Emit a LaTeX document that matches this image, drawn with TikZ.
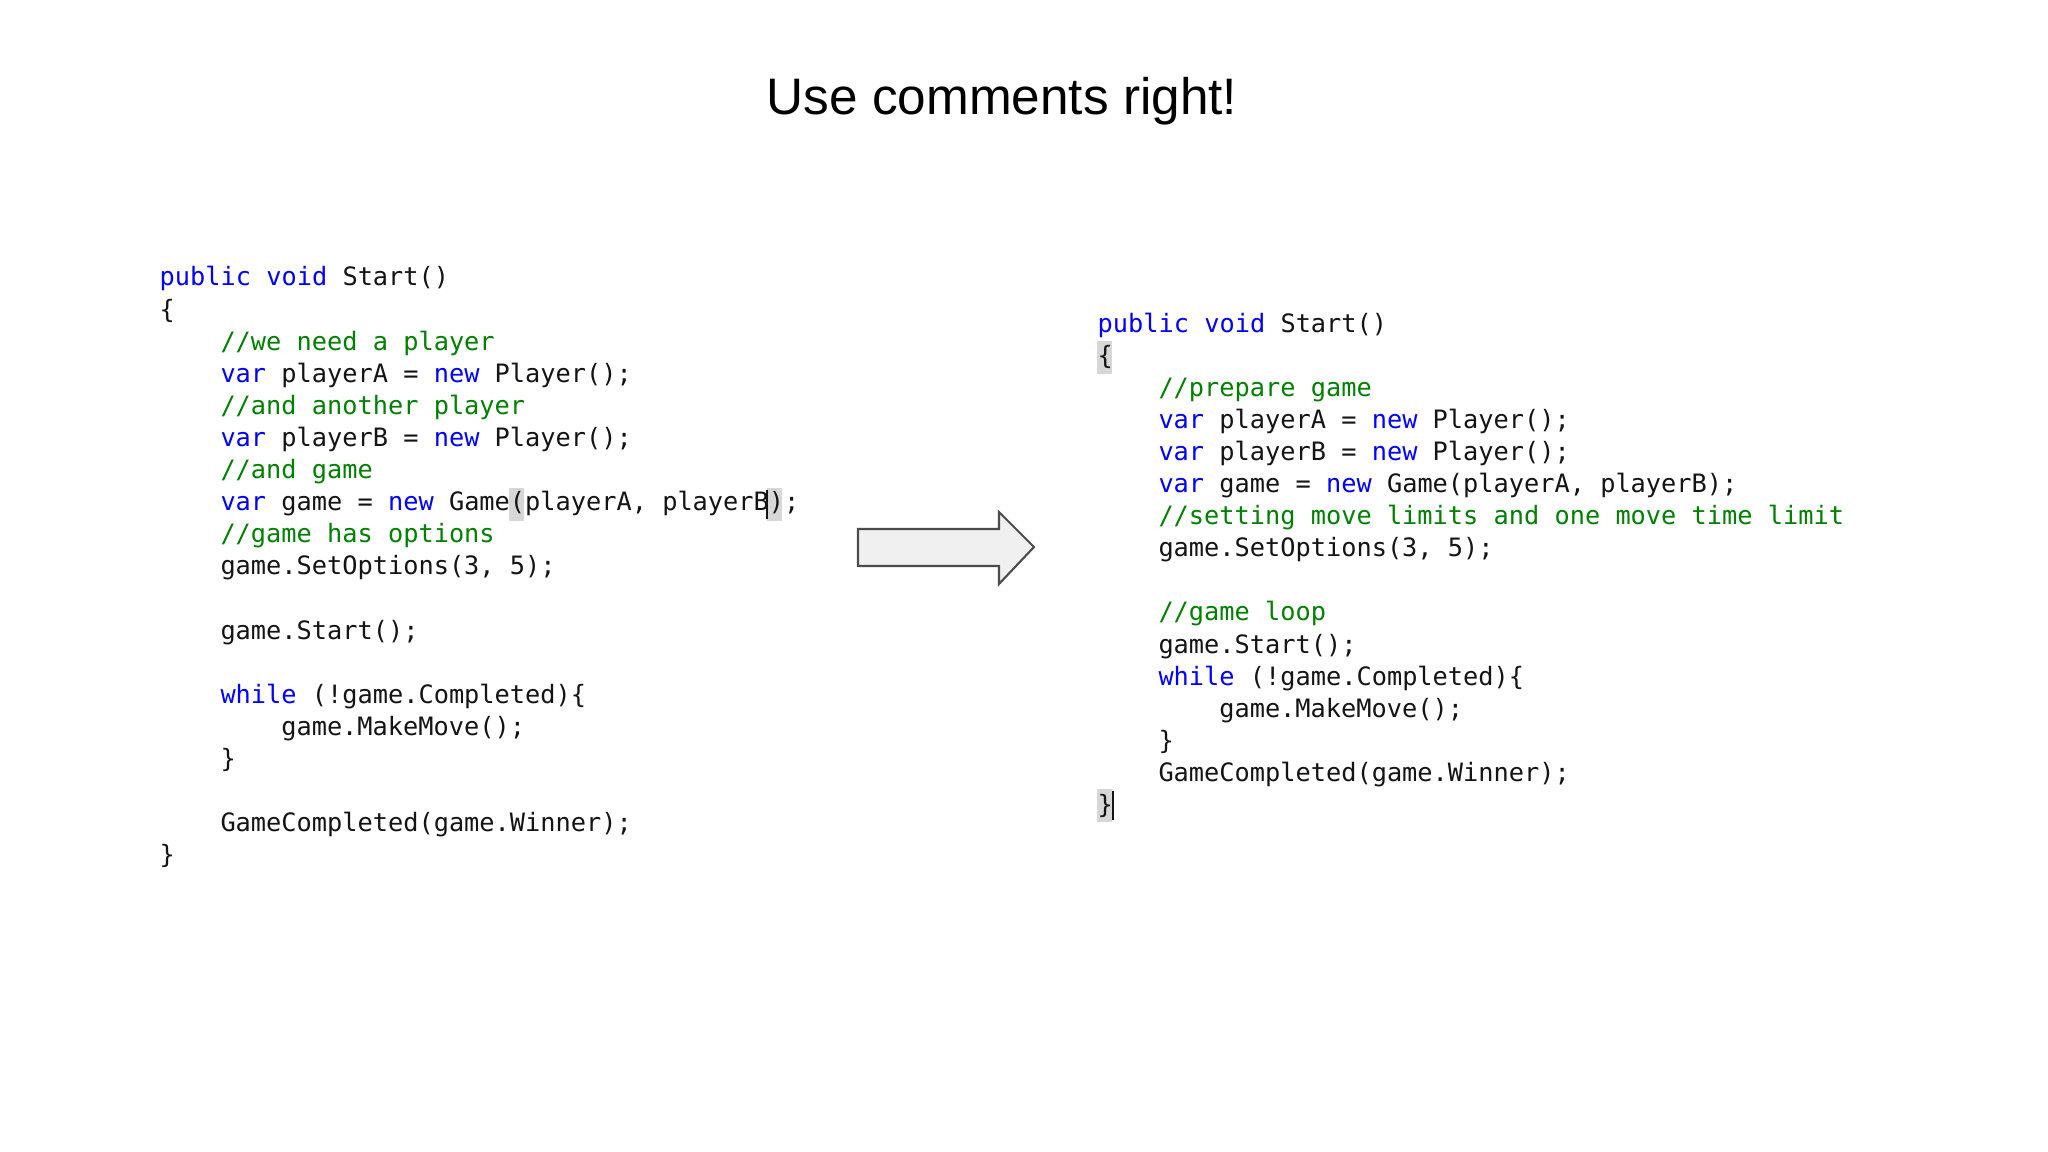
\documentclass[tikz,border=0pt]{standalone}
\usepackage{fontspec}
\setmainfont{Liberation Sans}
\setmonofont{DejaVu Sans Mono}
\definecolor{kw}{RGB}{0,0,255}
\definecolor{cm}{RGB}{0,128,0}
\definecolor{tx}{RGB}{20,20,20}
\definecolor{hl}{RGB}{215,215,215}
\newcommand{\K}[1]{\textcolor{kw}{#1}}
\newcommand{\C}[1]{\textcolor{cm}{#1}}
\begin{document}
\begin{tikzpicture}[x=1cm,y=1cm,
  code/.style={anchor=base west,inner sep=0pt,font=\ttfamily\fontsize{7.2pt}{9pt}\selectfont,text=tx},
  hlbox/.style={fill=hl,draw=none}]
\useasboundingbox[fill=white] (0,0) rectangle (20.48,-11.52);
\node[font=\fontsize{14.6pt}{16pt}\selectfont] (title) at (10.02,-1.01) {Use comments right!};
% highlights
\def\cw{0.152}
\fill[hl] (5.09,-5.21) rectangle ++(\cw,0.33);
\fill[hl] (7.67,-5.21) rectangle ++(\cw,0.33);
\draw[tx,line width=0.6pt] (7.67,-5.19) -- ++(0,0.29);
\fill[hl] (10.97,-3.74) rectangle ++(\cw,0.33);
\fill[hl] (10.97,-8.22) rectangle ++(\cw,0.33);
\draw[tx,line width=0.6pt] (11.13,-8.20) -- ++(0,0.29);
% left code
\def\lx{1.59}\def\ly{-2.86}\def\ls{0.321}\def\ind{0.608}
\node[code] (a0) at (\lx,\ly) {\K{public void} Start()};
\node[code] (a1) at (\lx,\ly-1*\ls) {\{};
\node[code] (a2) at (\lx+\ind,\ly-2*\ls) {\C{//we need a player}};
\node[code] (a3) at (\lx+\ind,\ly-3*\ls) {\K{var} playerA = \K{new} Player();};
\node[code] (a4) at (\lx+\ind,\ly-4*\ls) {\C{//and another player}};
\node[code] (a5) at (\lx+\ind,\ly-5*\ls) {\K{var} playerB = \K{new} Player();};
\node[code] (a6) at (\lx+\ind,\ly-6*\ls) {\C{//and game}};
\node[code] (a7) at (\lx+\ind,\ly-7*\ls) {\K{var} game = \K{new} Game(playerA, playerB);};
\node[code] (a8) at (\lx+\ind,\ly-8*\ls) {\C{//game has options}};
\node[code] (a9) at (\lx+\ind,\ly-9*\ls) {game.SetOptions(3, 5);};
\node[code] (a11) at (\lx+\ind,\ly-11*\ls) {game.Start();};
\node[code] (a13) at (\lx+\ind,\ly-13*\ls) {\K{while} (!game.Completed)\{};
\node[code] (a14) at (\lx+2*\ind,\ly-14*\ls) {game.MakeMove();};
\node[code] (a15) at (\lx+\ind,\ly-15*\ls) {\}};
\node[code] (a17) at (\lx+\ind,\ly-17*\ls) {GameCompleted(game.Winner);};
\node[code] (a18) at (\lx,\ly-18*\ls) {\}};
% right code
\def\rx{10.97}\def\ry{-3.32}
\node[code] (b0) at (\rx,\ry) {\K{public void} Start()};
\node[code] (b1) at (\rx,\ry-1*\ls) {\{};
\node[code] (b2) at (\rx+\ind,\ry-2*\ls) {\C{//prepare game}};
\node[code] (b3) at (\rx+\ind,\ry-3*\ls) {\K{var} playerA = \K{new} Player();};
\node[code] (b4) at (\rx+\ind,\ry-4*\ls) {\K{var} playerB = \K{new} Player();};
\node[code] (b5) at (\rx+\ind,\ry-5*\ls) {\K{var} game = \K{new} Game(playerA, playerB);};
\node[code] (b6) at (\rx+\ind,\ry-6*\ls) {\C{//setting move limits and one move time limit}};
\node[code] (b7) at (\rx+\ind,\ry-7*\ls) {game.SetOptions(3, 5);};
\node[code] (b9) at (\rx+\ind,\ry-9*\ls) {\C{//game loop}};
\node[code] (b10) at (\rx+\ind,\ry-10*\ls) {game.Start();};
\node[code] (b11) at (\rx+\ind,\ry-11*\ls) {\K{while} (!game.Completed)\{};
\node[code] (b12) at (\rx+2*\ind,\ry-12*\ls) {game.MakeMove();};
\node[code] (b13) at (\rx+\ind,\ry-13*\ls) {\}};
\node[code] (b14) at (\rx+\ind,\ry-14*\ls) {GameCompleted(game.Winner);};
\node[code] (b15) at (\rx,\ry-15*\ls) {\}};
% arrow
\draw[fill=gray!12,draw=black!70,line width=0.6pt]
  (8.58,-5.29) -- (9.99,-5.29) -- (9.99,-5.12) -- (10.34,-5.47) -- (9.99,-5.84) -- (9.99,-5.66) -- (8.58,-5.66) -- cycle;
\end{tikzpicture}
\end{document}
